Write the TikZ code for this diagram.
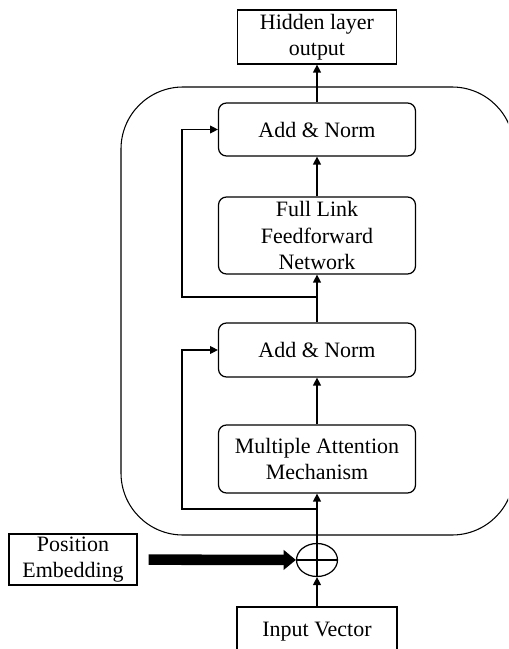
\documentclass[tikz,border=0pt]{standalone}
\usepackage{fontspec}
\setmainfont{Liberation Serif}
\usetikzlibrary{arrows.meta, shapes.geometric}
\tikzset{every picture/.style={x=0.02cm,y=-0.02cm,line width=0.7pt,>={Triangle[length=4.5pt,width=4.5pt]}},
  block/.style={draw, rounded corners=4.5pt, minimum width=3.94cm, inner sep=0pt, align=center, font=\fontsize{12.5}{15}\selectfont},
  plainbox/.style={draw, inner sep=0pt, align=center, font=\fontsize{12.5}{15}\selectfont},
  sumnode/.style={draw, ellipse, inner sep=0pt, minimum width=0.82cm, minimum height=0.66cm},
  fatarrow/.style={line width=6pt, -{Triangle[length=7pt,width=11pt]}, shorten <=0.22cm}}

\begin{document}
\begin{tikzpicture}
        \useasboundingbox (0,0) rectangle (508,649);
        \clip (0,0) rectangle (508,649);

        % encoder frame
        \draw[line width=0.6pt, rounded corners=1.24cm] (121,87) rectangle (514,535);

        \node[plainbox, minimum width=3.18cm, minimum height=1.08cm] (out) at (317,37) {Hidden layer\\output};
        \node[block, minimum height=1.06cm] (an2) at (317,129.5) {Add \& Norm};
        \node[block, minimum height=1.54cm] (ffn) at (317,235.5) {Full Link\\Feedforward\\Network};
        \node[block, minimum height=1.08cm] (an1) at (317,350) {Add \& Norm};
        \node[block, minimum height=1.36cm] (mha) at (317,459) {Multiple Attention\\Mechanism};
        \node[sumnode] (op) at (317,560) {};
        \node[plainbox, minimum width=2.56cm, minimum height=1.02cm] (pos) at (73,559.5) {Position\\Embedding};
        \node[plainbox, minimum width=3.2cm, minimum height=1.0cm] (inp) at (317,632) {Input Vector};

        \coordinate (j1) at (317,509);
        \coordinate (s1) at (182,509);
        \coordinate (j2) at (317,297);
        \coordinate (s2) at (182,297);

        \foreach \from/\to in {
          inp/op, op/mha, mha/an1, an1/ffn, ffn/an2, an2/out}
        \draw[->] (\from) -- (\to);

        \draw (op.west) -- (op.east);
        \draw (op.south) -- (op.north);

        % residual paths
        \draw[->] (j1) -- (s1) |- (an1.west);
        \draw[->] (j2) -- (s2) |- (an2.west);

        \draw[fatarrow] (pos) -- (op);
    \end{tikzpicture}
\end{document}
